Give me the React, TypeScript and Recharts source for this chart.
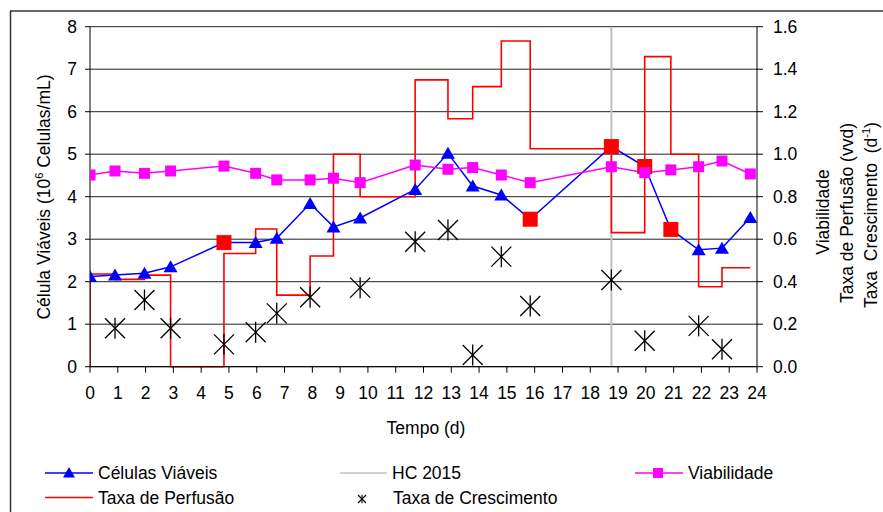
import React from "react";
import {
  ComposedChart,
  Line,
  XAxis,
  YAxis,
  CartesianGrid,
  ReferenceLine,
} from "recharts";

// Tempo (d) das amostras
const tempos = [0, 0.9, 1.96, 2.9, 4.82, 5.96, 6.72, 7.92, 8.76, 9.72, 11.7, 12.88, 13.77, 14.8, 15.84, 18.76, 19.96, 20.9, 21.9, 22.74, 23.76];
// Células Viáveis (10^6 células/mL) – eixo esquerdo
const celulasViaveis = [2.12, 2.16, 2.2, 2.35, 2.92, 2.92, 3.02, 3.84, 3.29, 3.5, 4.17, 5.02, 4.25, 4.04, 3.47, 5.18, 4.71, 3.23, 2.75, 2.79, 3.51];
// índices destacados com quadrado vermelho
const destaques = [4, 14, 15, 16, 17];
// Viabilidade – eixo direito
const viabilidade = [0.902, 0.921, 0.91, 0.921, 0.944, 0.91, 0.879, 0.879, 0.887, 0.866, 0.949, 0.929, 0.937, 0.902, 0.866, 0.941, 0.913, 0.926, 0.941, 0.968, 0.907];
// Taxa de Perfusão (vvd) – eixo direito, em degraus
const perfusao = [0.436, 0.411, 0.431, 0, 0.533, 0.648, 0.337, 0.521, 1.0, 0.8, 1.35, 1.167, 1.318, 1.533, 1.026, 0.631, 1.459, 1.0, 0.376, 0.466, 0.466];
// Taxa de Crescimento (d-1) – eixo direito
const crescimento: (number | null)[] = [null, 0.181, 0.314, 0.181, 0.105, 0.162, 0.251, 0.327, null, 0.372, 0.588, 0.643, 0.055, 0.518, 0.286, 0.408, 0.122, null, 0.192, 0.082, null];
// HC 2015
const hc2015 = 18.76;

const xTicks = Array.from({ length: 25 }, (_, i) => i);
const yLeftTicks = [0, 1, 2, 3, 4, 5, 6, 7, 8];
const yRightTicks = [0, 0.2, 0.4, 0.6, 0.8, 1.0, 1.2, 1.4, 1.6];

const celData = tempos.map((t, i) => ({ t, v: celulasViaveis[i], i }));
const viaData = tempos.map((t, i) => ({ t, v: viabilidade[i] }));
const perfData = [{ t: tempos[0], v: 0 }, ...tempos.map((t, i) => ({ t, v: perfusao[i] }))];
const cresData = tempos
  .map((t, i) => ({ t, v: crescimento[i] }))
  .filter((d) => d.v !== null);

const FONT = "'Liberation Sans', Arial, sans-serif";
const FS = 17.5;

const CelDot = (props: any) => {
  const { cx, cy, index } = props;
  if (cx == null || cy == null) return null;
  if (destaques.includes(index)) {
    return <rect key={"c" + index} x={cx - 7.5} y={cy - 7.5} width={15} height={15} fill="#FF0000" />;
  }
  return (
    <polygon
      key={"c" + index}
      points={`${cx},${cy - 6.5} ${cx - 7},${cy + 5.5} ${cx + 7},${cy + 5.5}`}
      fill="#0000FF"
    />
  );
};

const ViaDot = (props: any) => {
  const { cx, cy, index } = props;
  if (cx == null || cy == null) return null;
  return <rect key={"v" + index} x={cx - 5.5} y={cy - 5.5} width={11} height={11} fill="#FF00FF" />;
};

const Star = ({ cx, cy, r, w }: { cx: number; cy: number; r: number; w: number }) => (
  <g stroke="#000" strokeWidth={w}>
    <line x1={cx - r} y1={cy - r} x2={cx + r} y2={cy + r} />
    <line x1={cx - r} y1={cy + r} x2={cx + r} y2={cy - r} />
    <line x1={cx} y1={cy - r * 1.05} x2={cx} y2={cy + r * 1.05} />
  </g>
);

const CresDot = (props: any) => {
  const { cx, cy, index } = props;
  if (cx == null || cy == null) return null;
  return (
    <g key={"s" + index}>
      <Star cx={cx} cy={cy} r={10} w={1.3} />
    </g>
  );
};

const tickStyle = { fontSize: FS, fill: "#000", fontFamily: FONT };

export default function App() {
  return (
    <div style={{ position: "absolute", left: 0, top: 0, width: 883, height: 512, background: "#fff", fontFamily: FONT }}>
      <ComposedChart
        width={883}
        height={512}
        margin={{ top: 26.7, right: 66, bottom: 115.3, left: 30 }}
      >
        <CartesianGrid yAxisId="left" horizontal={true} vertical={false} stroke="#222" strokeWidth={1} />
        <XAxis
          dataKey="t"
          type="number"
          domain={[0, 24]}
          ticks={xTicks}
          interval={0}
          allowDataOverflow
          height={30}
          tickSize={6}
          tickMargin={14}
          tick={tickStyle}
          stroke="#000"
          axisLine={{ stroke: "#000" }}
          tickLine={{ stroke: "#000" }}
        />
        <YAxis
          yAxisId="left"
          domain={[0, 8]}
          ticks={yLeftTicks}
          interval={0}
          width={60}
          tickSize={5}
          tickMargin={8}
          tick={tickStyle}
          axisLine={{ stroke: "#000" }}
          tickLine={{ stroke: "#000" }}
        />
        <YAxis
          yAxisId="right"
          orientation="right"
          domain={[0, 1.6]}
          ticks={yRightTicks}
          interval={0}
          width={60}
          tickSize={6}
          tickMargin={10}
          tick={tickStyle}
          tickFormatter={(v: number) => v.toFixed(1)}
          axisLine={{ stroke: "#000" }}
          tickLine={{ stroke: "#000" }}
        />
        <ReferenceLine yAxisId="left" x={hc2015} stroke="#C0C0C0" strokeWidth={2} />
        <Line
          yAxisId="right"
          data={perfData}
          dataKey="v"
          type="stepAfter"
          stroke="#FF0000"
          strokeWidth={1.6}
          dot={false}
          isAnimationActive={false}
        />
        <Line
          yAxisId="left"
          data={celData}
          dataKey="v"
          type="linear"
          stroke="#0000FF"
          strokeWidth={1.5}
          dot={CelDot}
          isAnimationActive={false}
        />
        <Line
          yAxisId="right"
          data={viaData}
          dataKey="v"
          type="linear"
          stroke="#FF00FF"
          strokeWidth={1.5}
          dot={ViaDot}
          isAnimationActive={false}
        />
        <Line
          yAxisId="right"
          data={cresData}
          dataKey="v"
          type="linear"
          stroke="none"
          dot={CresDot}
          isAnimationActive={false}
        />
      </ComposedChart>
      <svg
        width={883}
        height={512}
        style={{ position: "absolute", left: 0, top: 0, pointerEvents: "none" }}
        fontFamily={FONT}
        fontSize={FS}
      >
        <line x1={10.5} y1={11} x2={10.5} y2={512} stroke="#333" strokeWidth={1.5} />
        <line x1={10} y1={11} x2={883} y2={11} stroke="#333" strokeWidth={1.5} />
        <text transform="translate(50,197) rotate(-90)" textAnchor="middle" fill="#000">
          Célula Viáveis (10<tspan dy={-7} fontSize={11}>6</tspan>
          <tspan dy={7}> Celulas/mL)</tspan>
        </text>
        <text transform="translate(829,212) rotate(-90)" textAnchor="middle" fill="#000">
          Viabilidade
        </text>
        <text transform="translate(853,213) rotate(-90)" textAnchor="middle" fill="#000">
          Taxa de Perfusão (vvd)
        </text>
        <text transform="translate(877,215) rotate(-90)" textAnchor="middle" fill="#000" style={{ whiteSpace: "pre" }}>
          {"Taxa  Crescimento  (d"}
          <tspan dy={-7} fontSize={11}>-1</tspan>
          <tspan dy={7}>)</tspan>
        </text>
        <text x={426} y={428} textAnchor="middle" dominantBaseline="central" fill="#000">
          Tempo (d)
        </text>
        {/* legenda */}
        <line x1={45} y1={473} x2={93} y2={473} stroke="#0000FF" strokeWidth={1.5} />
        <polygon points="69,467 63,477.5 75,477.5" fill="#0000FF" />
        <text x={98} y={473} dominantBaseline="central" fill="#000">Células Viáveis</text>
        <line x1={340} y1={473} x2={387} y2={473} stroke="#C0C0C0" strokeWidth={1.5} />
        <text x={392} y={473} dominantBaseline="central" fill="#000">HC 2015</text>
        <line x1={635} y1={473} x2={683} y2={473} stroke="#FF00FF" strokeWidth={1.5} />
        <rect x={653} y={468} width={10} height={10} fill="#FF00FF" />
        <text x={688} y={473} dominantBaseline="central" fill="#000">Viabilidade</text>
        <line x1={45} y1={497.5} x2={93} y2={497.5} stroke="#FF0000" strokeWidth={1.5} />
        <text x={98} y={497.5} dominantBaseline="central" fill="#000">Taxa de Perfusão</text>
        <Star cx={362} cy={499} r={4} w={1.1} />
        <text x={393} y={497.5} dominantBaseline="central" fill="#000">Taxa de Crescimento</text>
      </svg>
    </div>
  );
}
